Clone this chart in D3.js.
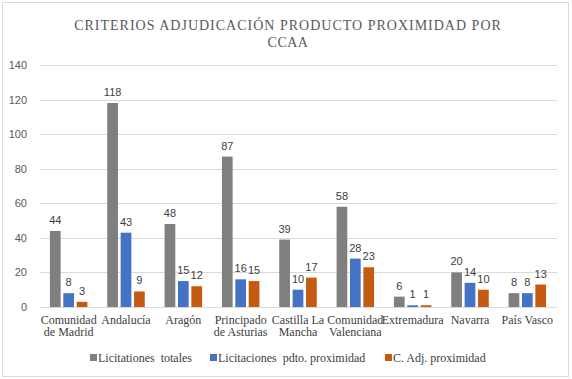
<!DOCTYPE html>
<html><head><meta charset="utf-8">
<script src="https://cdn.jsdelivr.net/npm/d3@7"></script>
<style>body{margin:0;background:#fff}svg{display:block}</style>
</head><body>
<svg id="c" width="572" height="379"></svg>
<script>
const categories = [["Comunidad","de Madrid"],["Andalucía"],["Aragón"],["Principado","de Asturias"],["Castilla La","Mancha"],["Comunidad","Valenciana"],["Extremadura"],["Navarra"],["País Vasco"]];
const seriesNames = ["Licitationes  totales","Licitaciones  pdto. proximidad","C. Adj. proximidad"];
const totales = [44,118,48,87,39,58,6,20,8];
const pdto = [8,43,15,16,10,28,1,14,8];
const adj = [3,9,12,15,17,23,1,10,13];
const colors = ["#7f7f7f","#4472c4","#c55a11"];
const yTicks = [0,20,40,60,80,100,120,140];
const titleLines = ["CRITERIOS ADJUDICACIÓN PRODUCTO PROXIMIDAD POR","CCAA"];

const SERIF = "'Liberation Serif'";
const SANS = "'Liberation Sans'";

const svg = d3.select("#c");
svg.append("rect").attr("x",2.5).attr("y",2.5).attr("width",566).attr("height",374)
  .attr("fill","#fff").attr("stroke","#d9d9d9");

const catKeys = categories.map(c=>c.join(" "));
const x0 = d3.scaleBand().domain(catKeys).range([40,556]);
const x1 = d3.scaleBand().domain(seriesNames).range([0,37.5]).paddingInner(0.2).paddingOuter(0);
const y = d3.scaleLinear().domain([0,140]).range([307,65]);

svg.selectAll("text.title").data(titleLines).join("text").attr("class","title")
  .style("font-family",SERIF).attr("font-size",14).attr("fill","#595959")
  .attr("text-anchor","middle").attr("x",288).attr("y",(d,i)=>30+i*17)
  .attr("letter-spacing",(d,i)=>i===0?1:0.5)
  .text(d=>d);

const catRows = [];
categories.forEach((d,i)=>d.forEach((line,k)=>catRows.push({i,k,line})));
svg.selectAll("text.cat").data(catRows).join("text").attr("class","cat")
  .style("font-family",SERIF).attr("font-size",12).attr("fill","#404040")
  .attr("text-anchor","middle")
  .attr("x",d=>x0(catKeys[d.i])+x0.bandwidth()/2).attr("y",d=>324+d.k*12)
  .text(d=>d.line);

const legX = [90,210,385];
svg.selectAll("rect.leg").data(seriesNames).join("rect").attr("class","leg")
  .attr("x",(d,i)=>legX[i]).attr("y",354).attr("width",7).attr("height",7).attr("fill",(d,i)=>colors[i]);
svg.selectAll("text.leg").data(seriesNames).join("text").attr("class","leg")
  .style("font-family",SERIF).attr("font-size",12).attr("fill","#404040")
  .attr("x",(d,i)=>legX[i]+8).attr("y",362)
  .style("white-space","pre").text(d=>d);

svg.append("g").selectAll("line").data(yTicks.slice(1)).join("line")
  .attr("x1",40).attr("x2",557).attr("y1",d=>Math.round(y(d))+0.5).attr("y2",d=>Math.round(y(d))+0.5)
  .attr("stroke","#d9d9d9").attr("stroke-width",1);

svg.append("g").selectAll("text").data(yTicks).join("text")
  .style("font-family",SANS)
  .attr("x",27).attr("y",d=>y(d)+4).attr("text-anchor","end")
  .attr("font-size",11).attr("fill","#595959")
  .text(d=>d);

const seriesData = [totales,pdto,adj];
seriesData.forEach((vals,si)=>{
  const g = svg.append("g");
  const off = (x0.bandwidth()-37.5)/2;
  g.selectAll("rect").data(vals).join("rect")
    .attr("x",(d,i)=>x0(catKeys[i])+off+x1(seriesNames[si]))
    .attr("width",x1.bandwidth())
    .attr("y",d=>y(d)).attr("height",d=>y(0)-y(d))
    .attr("fill",colors[si]);
  g.selectAll("text").data(vals).join("text")
    .style("font-family",SANS)
    .attr("x",(d,i)=>x0(catKeys[i])+off+x1(seriesNames[si])+x1.bandwidth()/2)
    .attr("y",d=>y(d)-7).attr("text-anchor","middle")
    .attr("font-size",11).attr("fill","#404040")
    .text(d=>d);
});

svg.append("line").attr("x1",40).attr("x2",557).attr("y1",Math.round(y(0))+0.5).attr("y2",Math.round(y(0))+0.5)
  .attr("stroke","#d9d9d9");
</script>
</body></html>
